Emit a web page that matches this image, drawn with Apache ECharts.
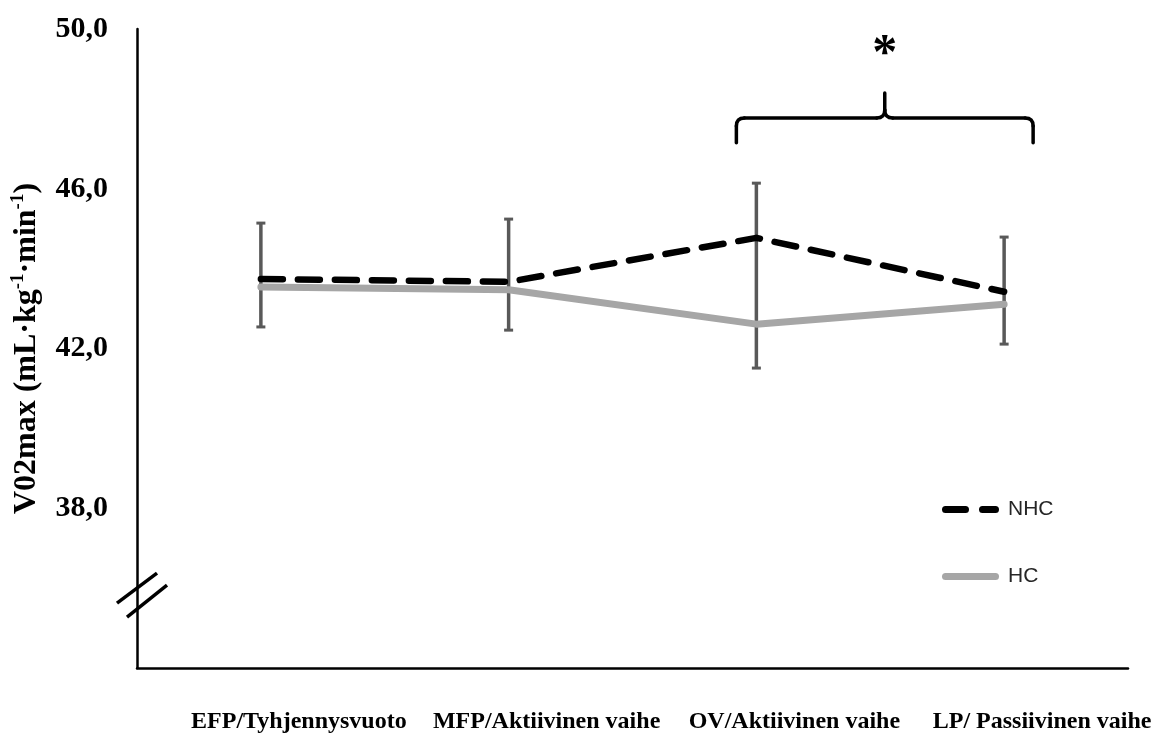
<!DOCTYPE html>
<html>
<head>
<meta charset="utf-8">
<script src="https://cdn.jsdelivr.net/npm/echarts@6/dist/echarts.min.js"></script>
<style>
html,body{margin:0;padding:0;background:#fff;}
#chart{width:1155px;height:735px;}
</style>
</head>
<body>
<div id="chart"></div>
<script>
// ---- data ----
const categories = ['EFP/Tyhjennysvuoto', 'MFP/Aktiivinen vaihe', 'OV/Aktiivinen vaihe', 'LP/ Passiivinen vaihe'];
const nhcValues = [43.74, 43.67, 44.77, 43.42];
const hcValues = [43.54, 43.47, 42.61, 43.11];
const errHigh = [45.14, 45.24, 46.14, 44.79];
const errLow = [42.54, 42.46, 41.51, 42.11];
const yTickLabels = [38, 42, 46, 50];

const chart = echarts.init(document.getElementById('chart'));
const serif = 'Liberation Serif';
const legendText = { fontFamily: 'Liberation Sans', fontSize: 21, color: '#262626', padding: [0, 0, 0, 4] };

const option = {
  backgroundColor: '#ffffff',
  animation: false,
  grid: { left: 137, right: 27, top: 29, bottom: 67, containLabel: false },
  xAxis: {
    type: 'category',
    data: categories,
    boundaryGap: true,
    axisLine: { lineStyle: { color: '#000', width: 2.5 } },
    axisTick: { show: false },
    axisLabel: {
      interval: 0,
      margin: 42,
      padding: [0, 0, 0, 76],
      fontFamily: serif,
      fontWeight: 'bold',
      fontSize: 24,
      color: '#000'
    },
    splitLine: { show: false }
  },
  yAxis: {
    type: 'value',
    min: 34,
    max: 50,
    interval: 4,
    axisLine: { show: true, lineStyle: { color: '#000', width: 2.5 } },
    axisTick: { show: false },
    splitLine: { show: false },
    axisLabel: {
      margin: 29,
      fontFamily: serif,
      fontWeight: 'bold',
      fontSize: 30,
      color: '#000',
      formatter: function (v) {
        return yTickLabels.indexOf(v) >= 0 ? v.toFixed(1).replace('.', ',') : '';
      }
    },
    name: 'V02max (mL·kg{sup|-1}·min{sup|-1})',
    nameLocation: 'middle',
    nameGap: 89,
    nameTextStyle: {
      fontFamily: serif,
      fontWeight: 'bold',
      fontSize: 32,
      color: '#000',
      lineHeight: 36,
      rich: {
        sup: {
          fontFamily: serif,
          fontWeight: 'bold',
          fontSize: 19,
          lineHeight: 36,
          verticalAlign: 'top',
          padding: [0, 0, 14, 0],
          color: '#000'
        }
      }
    }
  },
  legend: [
    {
      data: [{ name: 'NHC', icon: 'path://M3.5,0h20a3.5,3.5 0 0 1 0,7h-20a3.5,3.5 0 0 1 0,-7z M40.5,0h13a3.5,3.5 0 0 1 0,7h-13a3.5,3.5 0 0 1 0,-7z' }],
      left: 942, top: 499, padding: 0,
      itemWidth: 57, itemHeight: 7,
      textStyle: legendText
    },
    {
      data: [{ name: 'HC', icon: 'path://M3.5,0h50a3.5,3.5 0 0 1 0,7h-50a3.5,3.5 0 0 1 0,-7z' }],
      left: 942, top: 566, padding: 0,
      itemWidth: 57, itemHeight: 8,
      textStyle: legendText
    }
  ],
  series: [
    {
      name: 'errorbars',
      type: 'custom',
      z: 1,
      data: categories.map((c, i) => [i, errHigh[i], errLow[i]]),
      encode: { x: 0, y: [1, 2] },
      renderItem: function (params, api) {
        const x = api.value(0);
        const hi = api.coord([x, api.value(1)]);
        const lo = api.coord([x, api.value(2)]);
        const cap = 4.5;
        return {
          type: 'group',
          children: [
            { type: 'line', shape: { x1: hi[0], y1: hi[1], x2: lo[0], y2: lo[1] }, style: { stroke: '#595959', lineWidth: 3.5 } },
            { type: 'line', shape: { x1: hi[0] - cap, y1: hi[1], x2: hi[0] + cap, y2: hi[1] }, style: { stroke: '#595959', lineWidth: 3 } },
            { type: 'line', shape: { x1: lo[0] - cap, y1: lo[1], x2: lo[0] + cap, y2: lo[1] }, style: { stroke: '#595959', lineWidth: 3 } }
          ]
        };
      }
    },
    {
      name: 'HC',
      type: 'line',
      z: 2,
      data: hcValues,
      symbol: 'none',
      color: '#A6A6A6',
      lineStyle: { color: '#A6A6A6', width: 7, cap: 'round', join: 'round' }
    },
    {
      name: 'NHC',
      type: 'line',
      z: 3,
      data: nhcValues,
      symbol: 'none',
      color: '#000000',
      lineStyle: { color: '#000000', width: 6.5, type: [22, 15], cap: 'round', join: 'round' }
    }
  ]
};
chart.setOption(option);

// ---- annotations (significance brace, asterisk, axis break) ----
const px = (i) => chart.convertToPixel({ xAxisIndex: 0 }, i);
const py = (v) => chart.convertToPixel({ yAxisIndex: 0 }, v);
const L = px(2) - 20, R = px(3) + 29, M = (L + R) / 2;
const yLine = py(47.77), yEnd = py(47.15), yTip = py(48.4), yStar = py(49.35);
const ax = px(0) - (px(1) - px(0)) / 2;
const yBreak = py(35.8);
const r = 8;
const bs = { stroke: '#000', lineWidth: 3.5, lineCap: 'round', fill: null };
const seg = (x1, y1, x2, y2) => ({ type: 'line', shape: { x1, y1, x2, y2 }, style: bs });
const curve = (x1, y1, cx, cy, x2, y2) => ({ type: 'bezierCurve', shape: { x1, y1, x2, y2, cpx1: cx, cpy1: cy }, style: bs });

chart.setOption({
  graphic: [
    seg(L, yEnd, L, yLine + r),
    curve(L, yLine + r, L, yLine, L + r, yLine),
    seg(L + r, yLine, M - r, yLine),
    curve(M - r, yLine, M, yLine, M, yLine - r),
    seg(M, yLine - r, M, yTip),
    curve(M, yLine - r, M, yLine, M + r, yLine),
    seg(M + r, yLine, R - r, yLine),
    curve(R - r, yLine, R, yLine, R, yLine + r),
    seg(R, yLine + r, R, yEnd),
    { type: 'text', x: M, y: yStar, style: { text: '*', fontFamily: serif, fontWeight: 'bold', fontSize: 50, fill: '#000', align: 'center', verticalAlign: 'middle' } },
    { type: 'line', shape: { x1: ax - 20, y1: yBreak + 7, x2: ax + 20, y2: yBreak - 23 }, style: { stroke: '#000', lineWidth: 3.5 } },
    { type: 'line', shape: { x1: ax - 10, y1: yBreak + 21, x2: ax + 30, y2: yBreak - 11 }, style: { stroke: '#000', lineWidth: 3.5 } }
  ]
});
</script>
</body>
</html>
